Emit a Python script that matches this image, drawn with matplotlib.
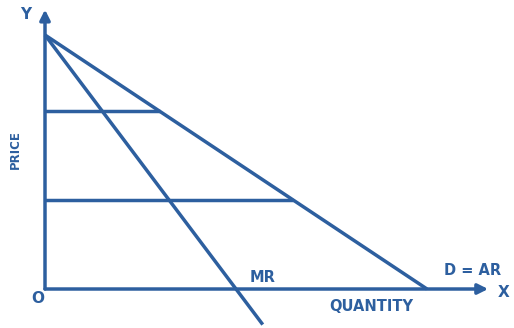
import matplotlib.pyplot as plt

# demand (average revenue) and marginal revenue schedules
demand_q = [0, 10]
demand_p = [10, 0]
mr_q = [0, 5.7]
mr_p = [10, -1.4]

# price levels read across to the demand curve
price_levels = [7, 3.5]
level_q = [3, 6.5]

blue = '#2d5f9f'
lw = 2.5

fig = plt.figure(figsize=(5.14, 3.28), dpi=100)
ax = fig.add_axes([0, 0, 1, 1])
ax.set_xlim(-1.178, 12.277)
ax.set_ylim(-1.535, 11.378)
ax.axis('off')

# axes with arrow heads
ax.annotate('', xy=(0, 11.0), xytext=(0, 0),
            arrowprops=dict(arrowstyle='-|>', lw=lw, color=blue,
                            mutation_scale=15, shrinkA=0, shrinkB=0))
ax.annotate('', xy=(11.6, 0), xytext=(0, 0),
            arrowprops=dict(arrowstyle='-|>', lw=lw, color=blue,
                            mutation_scale=15, shrinkA=0, shrinkB=0))

ax.plot(demand_q, demand_p, color=blue, lw=lw, solid_capstyle='butt')
ax.plot(mr_q, mr_p, color=blue, lw=lw, solid_capstyle='butt')
for p, q in zip(price_levels, level_q):
    ax.plot([0, q], [p, p], color=blue, lw=lw, solid_capstyle='butt')

font = dict(color=blue, fontweight='bold', family='DejaVu Sans')
ax.text(-0.5, 10.8, 'Y', fontsize=11, ha='center', va='center', **font)
ax.text(12.0, -0.15, 'X', fontsize=11, ha='center', va='center', **font)
ax.text(-0.18, -0.38, 'O', fontsize=11, ha='center', va='center', **font)
ax.text(-0.78, 5.5, 'PRICE', fontsize=8.5, rotation=90, ha='center', va='center', **font)
ax.text(5.7, 0.47, 'MR', fontsize=10.5, ha='center', va='center', **font)
ax.text(11.2, 0.71, 'D = AR', fontsize=10.5, ha='center', va='center', **font)
ax.text(8.55, -0.7, 'QUANTITY', fontsize=10.5, ha='center', va='center', **font)

fig.savefig('out.png', dpi=100)
